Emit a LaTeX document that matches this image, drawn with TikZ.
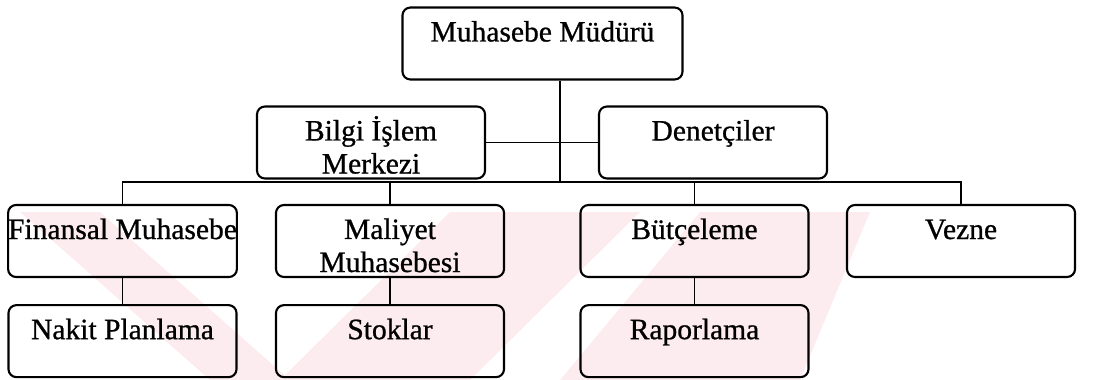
\documentclass[tikz,border=0pt]{standalone}
\usepackage{fontspec}
\setmainfont{Liberation Serif}[FakeBold=0.8]
\usepackage{tikz}
\usetikzlibrary{positioning}
\definecolor{wmark}{RGB}{253,236,239}
\tikzset{
	unit/.style={
		draw, rectangle, rounded corners=0.2cm, line width=1.5pt,
		minimum width=5.7cm, inner xsep=0pt, inner ysep=0pt,
		text height=0.85cm, text depth=0.95cm,
		align=center, text=black,
		font=\fontsize{21}{23.5}\selectfont
	},
	unit_two/.style={unit, text height=1.675cm, text depth=0.125cm},
	link/.style={line width=1pt}
}

\begin{document}
\begin{tikzpicture}[x=0.025cm, y=-0.025cm]
				\useasboundingbox (0,0) rectangle (1115,380);
				% faint watermark in the background
				\fill[wmark] (20,212) -- (100,212) -- (290,380) -- (210,380) -- cycle;
				\fill[wmark] (280,380) -- (450,212) -- (640,212) -- (470,380) -- cycle;
				\fill[wmark] (560,380) -- (700,212) -- (870,212) -- (800,380) -- cycle;
				\node[unit, minimum width=7cm] (top) at (542.5,43.5) {Muhasebe Müdürü};
				\node[unit_two] (bilgi) at (371,142.5) {Bilgi İşlem\\Merkezi};
				\node[unit] (denet) at (713,142.5) {Denetçiler};
				\node[unit] (finans)  at (122.5,241) {Finansal Muhasebe};
				\node[unit_two] (maliyet) at (390,241) {Maliyet\\Muhasebesi};
				\node[unit] (butce)   at (694.5,241) {Bütçeleme};
				\node[unit] (vezne)   at (961,241) {Vezne};
				\node[unit] (nakit) [below=0.65cm of finans] {Nakit Planlama};
				\node[unit] (stok)  [below=0.65cm of maliyet] {Stoklar};
				\node[unit] (rapor) [below=0.65cm of butce] {Raporlama};
				\coordinate (bus) at (560,182);
				\draw[link] (top.south -| bus) -- (bus);
				\draw[link] (bilgi.east) -- (denet.west);
				\draw[link] (finans.north) -- (finans.north |- bus) -- (vezne.north |- bus) -- (vezne.north);
				\draw[link] (maliyet.north) -- (maliyet.north |- bus);
				\draw[link] (butce.north) -- (butce.north |- bus);
				\draw[link] (finans.south) -- (nakit.north);
				\draw[link] (maliyet.south) -- (stok.north);
				\draw[link] (butce.south) -- (rapor.north);
			\end{tikzpicture}
\end{document}
